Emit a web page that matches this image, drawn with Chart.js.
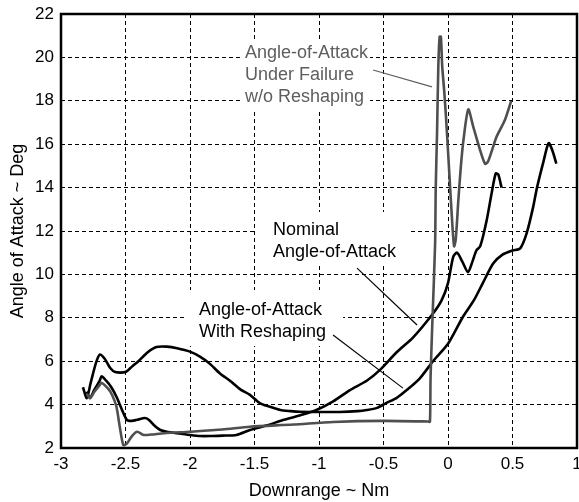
<!DOCTYPE html>
<html>
<head>
<meta charset="utf-8">
<script src="https://cdn.jsdelivr.net/npm/chart.js@4/dist/chart.umd.min.js"></script>
<style>
    html, body { margin: 0; padding: 0; background: #fff; }
    #wrap { width: 579px; height: 502px; }
</style>
</head>
<body>
<div id="wrap"><canvas id="aoaChart" width="579" height="502"></canvas></div>
<script>
// Angle of attack vs downrange
const reshapeX = [-2.83, -2.80, -2.77, -2.73, -2.70, -2.66, -2.62, -2.58, -2.50, -2.45, -2.40, -2.33, -2.26, -2.18, -2.10, -2.00, -1.92, -1.85, -1.77, -1.69, -1.61, -1.535, -1.46, -1.38, -1.30, -1.22, -1.15, -1.00, -0.84, -0.70, -0.63, -0.55, -0.48, -0.40, -0.32, -0.22, -0.116, 0.0, 0.116, 0.2, 0.27, 0.35, 0.42, 0.5, 0.56, 0.61, 0.66, 0.69, 0.74, 0.78, 0.81, 0.84];
const reshapeY = [4.8, 4.3, 5.0, 5.9, 6.3, 6.1, 5.7, 5.5, 5.5, 5.75, 6.0, 6.4, 6.65, 6.67, 6.6, 6.44, 6.2, 5.9, 5.45, 5.1, 4.7, 4.45, 4.07, 3.9, 3.75, 3.7, 3.67, 3.66, 3.66, 3.7, 3.75, 3.85, 4.07, 4.3, 4.67, 5.2, 6.0, 6.8, 8.05, 8.8, 9.6, 10.5, 10.9, 11.1, 11.2, 11.9, 13.1, 14.0, 15.2, 16.05, 15.7, 15.1];

const nominalX = [-2.80, -2.775, -2.74, -2.70, -2.685, -2.65, -2.61, -2.57, -2.53, -2.49, -2.45, -2.41, -2.35, -2.32, -2.27, -2.23, -2.18, -2.10, -2.00, -1.92, -1.845, -1.75, -1.64, -1.535, -1.40, -1.28, -1.15, -1.02, -0.89, -0.76, -0.63, -0.527, -0.40, -0.27, -0.116, -0.05, 0.0, 0.04, 0.07, 0.11, 0.155, 0.19, 0.22, 0.25, 0.30, 0.34, 0.37, 0.39, 0.415];
const nominalY = [4.6, 4.3, 4.7, 5.1, 5.3, 5.1, 4.8, 4.36, 3.8, 3.3, 3.25, 3.3, 3.38, 3.3, 3.0, 2.83, 2.75, 2.68, 2.6, 2.55, 2.55, 2.57, 2.6, 2.83, 3.05, 3.29, 3.5, 3.75, 4.15, 4.67, 5.1, 5.6, 6.4, 7.1, 8.2, 8.8, 9.6, 10.8, 11.0, 10.6, 10.1, 10.6, 11.1, 11.3, 12.5, 13.8, 14.65, 14.6, 14.0];

const failureX = [-2.80, -2.775, -2.74, -2.70, -2.685, -2.63, -2.60, -2.57, -2.545, -2.517, -2.49, -2.45, -2.41, -2.36, -2.30, -2.20, -2.00, -1.75, -1.535, -1.20, -0.89, -0.50, -0.153, -0.14, -0.135, -0.12, -0.10, -0.095, -0.085, -0.075, -0.065, -0.055, -0.045, -0.03, -0.015, 0.0, 0.03, 0.047, 0.06, 0.08, 0.10, 0.12, 0.157, 0.196, 0.25, 0.287, 0.31, 0.34, 0.377, 0.44, 0.49];
const failureY = [4.5, 4.3, 4.6, 4.9, 5.0, 4.7, 4.4, 3.9, 3.0, 2.14, 2.2, 2.55, 2.75, 2.6, 2.62, 2.68, 2.75, 2.85, 2.98, 3.08, 3.2, 3.25, 3.22, 3.21, 5.3, 8.0, 11.4, 14.0, 16.5, 19.6, 20.95, 20.95, 19.6, 18.5, 17.2, 15.7, 12.65, 11.3, 11.6, 13.4, 15.0, 16.2, 17.6, 16.8, 15.7, 15.1, 15.2, 15.7, 16.35, 17.1, 18.0];

const xTickRange = [-3, 1, 0.5];
const yTickRange = [2, 22, 2];

// callouts: text lines, text anchor (data units), leader line from/to (data units)
// pad = white box margin round the text [left, right, top, bottom] in px
const callouts = [
    { lines: ['Angle-of-Attack', 'Under Failure', 'w/o Reshaping'], x: -1.574, y: 20.2, color: '#5e5e5e', pad: [2, 2, 13, 13], from: [-0.581, 19.42], to: [-0.124, 18.64] },
    { lines: ['Nominal', 'Angle-of-Attack'], x: -1.357, y: 12.05, color: '#000', pad: [17, 13, 18, 13], from: [-0.705, 10.29], to: [-0.24, 7.67] },
    { lines: ['Angle-of-Attack', 'With Reshaping'], x: -1.93, y: 8.36, color: '#000', pad: [14, 17, 20, 14], from: [-0.891, 7.21], to: [-0.349, 4.76] },
];

const fontFamily = '"Liberation Sans", Arial, sans-serif';
const lineGap = 22;

function toPoints(xs, ys) {
    return xs.map((x, i) => ({ x: x, y: ys[i] }));
}

const frameAndNotes = {
    id: 'frameAndNotes',
    beforeDatasetsDraw(chart) {
        // white boxes behind the callout text hide the grid there
        const ctx = chart.ctx;
        const xs = chart.scales.x;
        const ys = chart.scales.y;
        ctx.save();
        ctx.font = '18px ' + fontFamily;
        ctx.fillStyle = '#fff';
        callouts.forEach(function (c) {
            const px = xs.getPixelForValue(c.x);
            const py = ys.getPixelForValue(c.y);
            var w = 0;
            c.lines.forEach(function (t) {
                w = Math.max(w, ctx.measureText(t).width);
            });
            const h = (c.lines.length - 1) * lineGap;
            ctx.fillRect(px - c.pad[0], py - c.pad[2], w + c.pad[0] + c.pad[1], h + c.pad[2] + c.pad[3]);
        });
        ctx.restore();
    },
    afterDatasetsDraw(chart) {
        const ctx = chart.ctx;
        const xs = chart.scales.x;
        const ys = chart.scales.y;
        ctx.save();
        callouts.forEach(function (c) {
            ctx.font = '18px ' + fontFamily;
            ctx.fillStyle = c.color;
            ctx.textBaseline = 'middle';
            ctx.textAlign = 'left';
            const px = xs.getPixelForValue(c.x);
            const py = ys.getPixelForValue(c.y);
            c.lines.forEach(function (t, i) {
                ctx.fillText(t, px, py + i * lineGap);
            });
            ctx.strokeStyle = c.color;
            ctx.lineWidth = 1.2;
            ctx.beginPath();
            ctx.moveTo(xs.getPixelForValue(c.from[0]), ys.getPixelForValue(c.from[1]));
            ctx.lineTo(xs.getPixelForValue(c.to[0]), ys.getPixelForValue(c.to[1]));
            ctx.stroke();
        });
        const a = chart.chartArea;
        ctx.strokeStyle = '#000';
        ctx.lineWidth = 2.5;
        ctx.strokeRect(a.left, a.top, a.right - a.left, a.bottom - a.top);
        ctx.restore();
    },
};

function seriesConfig(label, xs, ys, color) {
    return {
        label: label,
        data: toPoints(xs, ys),
        borderColor: color,
        borderWidth: 2.6,
        pointRadius: 0,
        tension: 0.25,
        fill: false,
    };
}

const chart = new Chart(document.getElementById('aoaChart').getContext('2d'), {
    type: 'line',
    data: {
        datasets: [
            seriesConfig('Under Failure w/o Reshaping', failureX, failureY, '#4f4f4f'),
            seriesConfig('With Reshaping', reshapeX, reshapeY, '#000'),
            seriesConfig('Nominal', nominalX, nominalY, '#000'),
        ],
    },
    options: {
        responsive: false,
        animation: false,
        layout: { padding: { top: 14, right: 2, left: 0, bottom: 0 } },
        plugins: { legend: { display: false }, tooltip: { enabled: false } },
        scales: {
            x: {
                type: 'linear',
                min: xTickRange[0],
                max: xTickRange[1],
                ticks: {
                    stepSize: xTickRange[2],
                    color: '#000',
                    padding: 6,
                    maxRotation: 0,
                    font: { family: fontFamily, size: 17 },
                    callback: (v) => String(v),
                },
                grid: { color: '#000', lineWidth: 1, drawTicks: false },
                border: { display: false, dash: [4, 3] },
                title: {
                    display: true,
                    text: 'Downrange ~ Nm',
                    color: '#000',
                    font: { family: fontFamily, size: 18 },
                    padding: { top: 0, bottom: 0 },
                },
                afterFit(scale) {
                    scale.height = 54;
                    scale.paddingLeft = 0;
                    scale.paddingRight = 0;
                },
            },
            y: {
                min: yTickRange[0],
                max: yTickRange[1],
                ticks: {
                    stepSize: yTickRange[2],
                    color: '#000',
                    padding: 7,
                    font: { family: fontFamily, size: 17 },
                    callback: (v) => String(v),
                },
                grid: { color: '#000', lineWidth: 1, drawTicks: false },
                border: { display: false, dash: [4, 3] },
                title: {
                    display: true,
                    text: 'Angle of Attack ~ Deg',
                    color: '#000',
                    font: { family: fontFamily, size: 18 },
                    padding: { top: 7, bottom: 0 },
                },
                afterFit(scale) {
                    scale.width = 61;
                    scale.paddingTop = 0;
                    scale.paddingBottom = 0;
                },
            },
        },
    },
    plugins: [frameAndNotes],
});
</script>
</body>
</html>
